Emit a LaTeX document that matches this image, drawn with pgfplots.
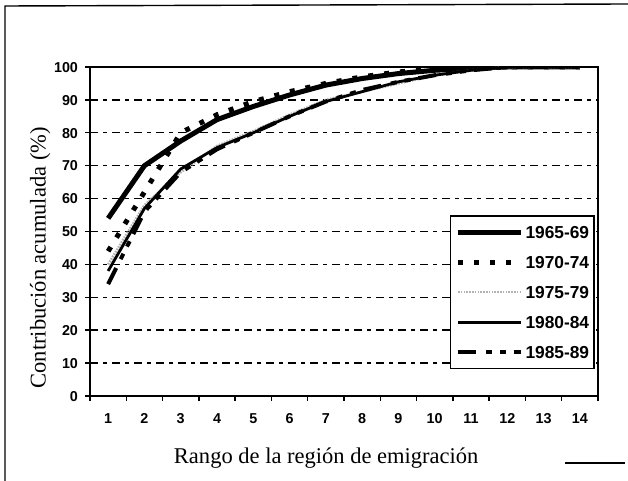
\documentclass[border=0pt]{standalone}
\usepackage{fontspec}
\setmainfont{Liberation Serif}
\newfontfamily\lsans{Liberation Sans}
\usepackage{pgfplots}
\pgfplotsset{compat=1.18}
\begin{document}
\begin{tikzpicture}
\useasboundingbox (0,0) rectangle (314bp,240.5bp);
% outer frame
\draw[line width=0.7bp] (2.5bp,0bp) -- (2.5bp,237.5bp) -- (314bp,238.5bp);
\draw[line width=0.7bp] (282.5bp,9bp) -- (312.5bp,9bp);
\begin{axis}[
  at={(45bp,42.5bp)}, anchor=south west,
  scale only axis, width=254bp, height=164.5bp,
  xmin=0.5, xmax=14.5, ymin=0, ymax=100,
  xtick={1,...,14}, minor xtick={0.5,1.5,...,14.5},
  ytick={0,10,...,100},
  tick pos=left, tick align=outside,
  major tick length=2.5bp, minor tick length=2.5bp,
  every major x tick/.append style={draw=none},
  axis line style={line width=0.9bp},
  every tick/.append style={line width=0.7bp, black},
  ymajorgrids,
  major grid style={black, line width=0.7bp, dash pattern=on 4bp off 2.5bp on 2bp off 2.5bp},
  /pgf/number format/assume math mode=true,
  tick label style={font=\lsans\bfseries\fontsize{7.2}{8}\selectfont},
  xticklabel style={yshift=-2.5bp, text height=5.3bp, text depth=0pt},
  yticklabel style={text height=5.3bp, text depth=0pt},
  xlabel={Rango de la región de emigración},
  ylabel={Contribución acumulada (\%)},
  label style={font=\fontsize{11.3}{13}\selectfont},
  xlabel style={at={(axis description cs:0.465,-0.19)}, anchor=center},
  ylabel style={at={(axis description cs:-0.098,0.42)}, anchor=center},
  legend style={at={(0.994,0.55)}, anchor=north east, draw=black, line width=0.8bp,
    font=\lsans\bfseries\fontsize{8.7}{10}\selectfont,
    inner xsep=2.5bp, inner ysep=5bp, row sep=8.7bp, column sep=1bp,
    nodes={inner sep=0pt, text height=6.3bp, text depth=0pt}},
  legend cell align=left,
  legend image code/.code={\draw[#1] (0bp,0bp) -- (31.5bp,0bp);},
]
\addplot[black, line width=2.5bp] coordinates {
(1,54) (2,70) (3,77.5) (4,84) (5,88) (6,91.5) (7,94.5) (8,96.5) (9,98) (10,99) (11,99.6) (12,100) (13,100) (14,100)};
\addlegendentry{1965-69}
\addplot[black, line width=2.5bp, dash pattern=on 2.5bp off 5.5bp] coordinates {
(1,44) (2,62) (3,80) (4,85.5) (5,89.5) (6,92.5) (7,95) (8,97) (9,98.5) (10,99.3) (11,99.8) (12,100) (13,100) (14,100)};
\addlegendentry{1970-74}
\addplot[gray!60, line width=1.3bp, dash pattern=on 0.8bp off 0.6bp] coordinates {
(1,40) (2,58) (3,68) (4,76) (5,80.5) (6,85.5) (7,90) (8,92.5) (9,95) (10,97.5) (11,99) (12,100) (13,100) (14,100)};
\addlegendentry{1975-79}
\addplot[black, line width=1.4bp] coordinates {
(1,38) (2,57) (3,69) (4,75.5) (5,80) (6,85) (7,89.5) (8,92.5) (9,95.5) (10,97.5) (11,99) (12,100) (13,100) (14,100)};
\addlegendentry{1980-84}
\addplot[black, line width=2bp, dash pattern=on 9bp off 5bp on 3bp off 4bp on 3bp off 4bp] coordinates {
(1,34) (2,56) (3,68) (4,75) (5,80) (6,85) (7,89.5) (8,93) (9,95.5) (10,97.5) (11,99) (12,100) (13,100) (14,100)};
\addlegendentry{1985-89}
\end{axis}
\end{tikzpicture}
\end{document}
